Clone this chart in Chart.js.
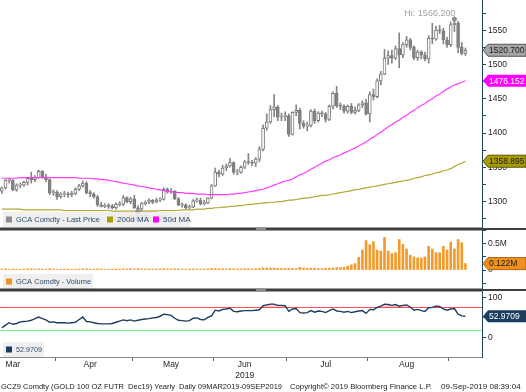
<!DOCTYPE html>
<html>
<head>
<meta charset="utf-8">
<script src="https://cdn.jsdelivr.net/npm/chart.js@4.4.1/dist/chart.umd.min.js"></script>
<style>
  html, body { margin: 0; padding: 0; background: #ffffff; }
  canvas { display: block; }
</style>
</head>
<body>
<canvas id="goldChart" width="526" height="392"></canvas>
<script>
// trading days shown (2019)
const marDays = [11,12,13,14,15,18,19,20,21,22,25,26,27,28,29];
const aprDays = [1,2,3,4,5,8,9,10,11,12,15,16,17,18,22,23,24,25,26,29,30];
const mayDays = [1,2,3,6,7,8,9,10,13,14,15,16,17,20,21,22,23,24,28,29,30,31];
const junDays = [3,4,5,6,7,10,11,12,13,14,17,18,19,20,21,24,25,26,27,28];
const julDays = [1,2,3,5,8,9,10,11,12,15,16,17,18,19,22,23,24,25,26,29,30,31];
const augDays = [1,2,5,6,7,8,9,12,13,14,15,16,19,20,21,22,23,26,27,28,29,30];
const sepDays = [3,4,5,6,9];

// month labels on the time axis
const monthNames = ['Mar', 'Apr', 'May', 'Jun', 'Jul', 'Aug'];
const monthLabelDays = ['2019-03-14', '2019-04-12', '2019-05-15', '2019-06-13', '2019-07-16', '2019-08-15'];

// GCA Comdty daily prices
const opens = [
  1315,1320,1331,1331,1317,1324,1324,1328,1334,1332,1335,1344,1336,1332,1313,
  1314,1307,1311,1311,1310,1312,1318,1323,1327,1313,1311,1307,1295,1293,1294,1293,1291,1296,1296,1306,1300,
  1304,1291,1289,1297,1299,1302,1299,1302,1303,1318,1314,1315,1304,1295,1295,1291,1292,1301,1302,1297,1298,1305,
  1323,1343,1340,1349,1352,1357,1343,1343,1350,1358,1357,1356,1362,1376,1407,1416,1434,1438,1423,1424,
  1425,1398,1430,1433,1414,1410,1411,1432,1418,1429,1428,1420,1439,1458,1440,1439,1432,1439,1430,1433,1441,1444,
  1428,1456,1453,1476,1486,1509,1513,1509,1523,1514,1529,1536,1525,1510,1518,1514,1508,1538,1537,1550,1549,1536,
  1529,1558,1560,1525,1516
];
const highs = [
  1321,1332,1334,1332,1326,1327,1330,1335,1343,1338,1346,1345,1340,1333,1317,
  1316,1313,1315,1314,1315,1320,1325,1330,1329,1316,1313,1309,1299,1297,1297,1296,1298,1300,1309,1307,1306,
  1309,1294,1299,1301,1304,1303,1305,1306,1320,1320,1319,1316,1306,1298,1297,1295,1303,1305,1305,1302,1306,1325,
  1349,1346,1353,1355,1363,1358,1347,1352,1360,1370,1360,1364,1380,1412,1428,1440,1456,1440,1429,1431,
  1428,1431,1441,1436,1418,1416,1434,1435,1431,1432,1430,1441,1460,1468,1444,1441,1441,1443,1438,1443,1447,1449,
  1460,1464,1479,1490,1522,1520,1521,1527,1546,1532,1541,1538,1527,1521,1520,1518,1542,1560,1556,1557,1553,1540,
  1562,1566.2,1563,1532,1524
];
const lows = [
  1312,1318,1327,1316,1315,1320,1322,1324,1327,1329,1334,1334,1329,1310,1309,
  1303,1305,1307,1306,1307,1310,1316,1321,1311,1307,1305,1293,1292,1291,1290,1289,1289,1293,1294,1298,1297,
  1290,1285.4,1286,1295,1297,1297,1298,1300,1302,1312,1312,1303,1294,1292,1289,1289,1291,1299,1295,1295,1297,1304,
  1322,1336,1338,1345,1350,1340,1339,1341,1348,1354,1352,1351,1358,1374,1404,1414,1424,1418,1418,1418,
  1395,1397,1425,1406,1407,1403,1409,1414,1416,1424,1416,1418,1435,1437,1434,1429,1429,1428,1428,1431,1437,1426,
  1416,1448,1451,1470,1485,1500,1502,1507,1495,1510,1525,1521,1507,1506,1508,1505,1502,1530,1535,1545,1530,1525,
  1526,1548,1517,1514,1513
];
const closes = [
  1320,1331,1331,1317,1324,1324,1328,1334,1332,1335,1344,1336,1332,1313,1314,
  1307,1311,1311,1310,1312,1318,1323,1327,1313,1311,1307,1295,1293,1294,1293,1291,1296,1296,1306,1300,1304,
  1291,1289,1297,1299,1302,1299,1302,1303,1318,1314,1315,1304,1295,1295,1291,1292,1301,1302,1297,1298,1305,1323,
  1343,1340,1349,1352,1357,1343,1343,1350,1358,1357,1356,1362,1376,1407,1416,1434,1438,1423,1424,1425,
  1398,1430,1433,1414,1410,1411,1432,1418,1429,1428,1420,1439,1458,1440,1439,1432,1439,1430,1433,1441,1444,1428,
  1456,1453,1476,1486,1509,1513,1509,1523,1514,1529,1536,1525,1510,1518,1514,1508,1538,1537,1550,1549,1536,1529,
  1558,1560,1525,1516,1520.7
];

// moving averages
const ma50 = [
  1334,1334,1334,1334,1334,1335,1335,1335,1335,1335,1335,1335,1335,1335,1335,
  1335,1335,1335,1335,1335,1335,1334,1334,1334,1334,1333,1333,1332,1332,1331,1330,1329,1328,1327,1326,1325,
  1324,1323,1322,1321,1320,1319,1318,1317,1316,1315,1314,1314,1313,1313,1312,1312,1312,1311,1311,1311,1310,1310,
  1310,1310,1310,1310,1311,1311,1312,1312,1313,1314,1315,1316,1317,1318,1320,1322,1324,1326,1328,1330,
  1331,1333,1336,1339,1341,1344,1347,1350,1353,1356,1359,1361,1364,1366,1368,1371,1373,1376,1378,1381,1384,1387,
  1391,1394,1398,1401,1405,1409,1412,1416,1419,1423,1426,1430,1433,1437,1440,1443,1447,1450,1454,1457,1461,1464,
  1467,1470,1472,1474,1476.152
];
const ma200 = [
  1289,1289,1289,1289,1289,1289,1288,1288,1288,1288,1288,1288,1288,1288,1288,
  1288,1288,1287,1287,1287,1287,1287,1287,1287,1287,1287,1287,1287,1287,1287,1286,1286,1286,1286,1286,1286,
  1286,1286,1286,1286,1286,1286,1286,1287,1287,1287,1287,1287,1287,1288,1288,1288,1288,1289,1289,1289,1290,1290,
  1291,1291,1292,1292,1293,1293,1294,1294,1295,1296,1296,1297,1297,1298,1298,1299,1299,1300,1300,1301,
  1302,1302,1303,1304,1305,1305,1306,1307,1308,1309,1309,1310,1311,1312,1313,1314,1315,1316,1317,1318,1319,1320,
  1321,1322,1323,1324,1325,1326,1327,1328,1329,1330,1331,1332,1334,1335,1336,1338,1339,1340,1342,1343,1345,1346,
  1348,1351,1354,1356,1358.895
];

// volume, millions of contracts
const volumes = [
  0.018,0.022,0.016,0.020,0.018,0.015,0.019,0.021,0.024,0.017,0.020,0.018,0.016,0.025,0.019,
  0.017,0.016,0.020,0.018,0.015,0.017,0.020,0.022,0.025,0.019,0.017,0.022,0.019,0.017,0.016,0.018,0.020,0.017,0.022,0.019,0.024,
  0.022,0.024,0.020,0.018,0.020,0.021,0.019,0.020,0.026,0.022,0.020,0.023,0.021,0.019,0.018,0.020,0.022,0.019,0.021,0.019,0.022,0.028,
  0.030,0.024,0.025,0.022,0.026,0.023,0.021,0.024,0.025,0.027,0.022,0.025,0.028,0.040,0.038,0.035,0.040,0.030,0.028,0.029,
  0.032,0.028,0.026,0.050,0.034,0.030,0.034,0.036,0.028,0.026,0.030,0.034,0.040,0.045,0.045,0.055,0.075,0.100,0.120,0.240,0.380,0.560,
  0.480,0.540,0.380,0.360,0.620,0.360,0.310,0.330,0.580,0.490,0.400,0.280,0.250,0.230,0.230,0.250,0.450,0.400,0.330,0.330,0.450,0.380,
  0.530,0.400,0.580,0.520,0.122
];

// RSI
const rsi = [
  24,31,37,33,35,39,40,41,43,47,51,47,44,38,39,
  37,37,37,36,37,38,45,51,40,39,37,35,34,34,34,35,38,41,44,42,44,
  41,43,45,46,47,49,50,53,58,57,55,48,43,42,41,42,48,49,45,44,50,54,
  68,66,70,71,73,65,64,66,67,67,67,68,69,79,81,83,83,80,80,79,
  65,71,72,62,61,62,67,63,66,65,62,67,71,66,65,63,65,62,64,66,67,60,
  70,69,75,78,83,82,80,82,78,80,81,76,68,70,67,65,74,75,78,77,71,68,
  71,72,58,54,52.9709
];
const rsiUpper = 75;
const rsiLower = 20;

// axis ticks
const priceTicks = [1275,1300,1325,1350,1375,1400,1425,1450,1475,1500,1525,1550,1575];
const volumeTicks = [-0.25, 0, 0.25, 0.5, 0.75];
const rsiTicks = [0, 50, 100];

const FONT = '"Liberation Sans", Arial, sans-serif';
const AXIS_BLUE = '#1f4766';
const CANDLE_GRAY = '#858585';

const dates = [];
[['03', marDays], ['04', aprDays], ['05', mayDays], ['06', junDays],
 ['07', julDays], ['08', augDays], ['09', sepDays]].forEach(([m, days]) => {
  days.forEach(d => dates.push('2019-' + m + '-' + String(d).padStart(2, '0')));
});
const labels = dates.concat(['pad1', 'pad2', 'pad3', 'pad4']);

const monthLabelAt = {};
monthLabelDays.forEach((d, i) => { monthLabelAt[d] = monthNames[i]; });
monthLabelAt['2019-06-13'] = ['Jun', '2019'];

function monthOf(d) { return d ? d.slice(0, 7) : null; }

function fitText(ctx, text, x, y, maxW) {
  const w = ctx.measureText(text).width;
  if (w <= maxW) { ctx.fillText(text, x, y); return; }
  ctx.save();
  ctx.translate(x, y);
  ctx.scale(maxW / w, 1);
  ctx.fillText(text, 0, 0);
  ctx.restore();
}

function drawTag(ctx, y, text, fill, textColor, border) {
  const x0 = 483, x1 = 526, h = 12;
  ctx.beginPath();
  ctx.moveTo(x0, y);
  ctx.lineTo(x0 + 5, y - h / 2);
  ctx.lineTo(x1, y - h / 2);
  ctx.lineTo(x1, y + h / 2);
  ctx.lineTo(x0 + 5, y + h / 2);
  ctx.closePath();
  ctx.fillStyle = fill;
  ctx.fill();
  if (border) {
    ctx.strokeStyle = border;
    ctx.lineWidth = 1;
    ctx.stroke();
  }
  ctx.fillStyle = textColor;
  ctx.font = '8.5px ' + FONT;
  ctx.textAlign = 'left';
  ctx.textBaseline = 'middle';
  fitText(ctx, text, x0 + 6, y + 0.5, 36);
}

function drawLegend(ctx, x, top, w, items) {
  ctx.fillStyle = 'rgba(236,236,236,0.82)';
  ctx.fillRect(x, top, w, 15);
  ctx.font = '8px ' + FONT;
  ctx.textAlign = 'left';
  ctx.textBaseline = 'middle';
  items.forEach(it => {
    ctx.fillStyle = it.color;
    ctx.fillRect(it.x, top + 4.5, 6, 6);
    ctx.fillStyle = '#2d4a68';
    fitText(ctx, it.text, it.x + 10, top + 8, it.w);
  });
}

const decor = {
  id: 'bbgDecor',
  beforeDatasetsDraw(chart) {
    const {ctx, chartArea, scales} = chart;
    ctx.save();
    ctx.lineWidth = 1;
    [[rsiUpper, '#ff4545'], [rsiLower, '#7ff07f']].forEach(([v, c]) => {
      const y = Math.round(scales.yR.getPixelForValue(v)) + 0.5;
      ctx.strokeStyle = c;
      ctx.beginPath();
      ctx.moveTo(chartArea.left, y);
      ctx.lineTo(chartArea.right, y);
      ctx.stroke();
    });
    ctx.restore();
  },
  afterDraw(chart) {
    const {ctx, chartArea, scales} = chart;
    const x = scales.x, yP = scales.yP, yV = scales.yV, yR = scales.yR;
    ctx.save();

    // high / low markers
    const hi = Math.max(...highs), lo = Math.min(...lows);
    const hiIdx = highs.indexOf(hi), loIdx = lows.indexOf(lo);
    ctx.fillStyle = '#8f8f8f';
    [[hiIdx, hi], [loIdx, lo]].forEach(([i, v]) => {
      ctx.beginPath();
      ctx.arc(x.getPixelForValue(i), yP.getPixelForValue(v), 2.5, 0, Math.PI * 2);
      ctx.fill();
    });
    ctx.font = '9px ' + FONT;
    ctx.fillStyle = '#a3a3a3';
    ctx.textBaseline = 'middle';
    ctx.textAlign = 'right';
    ctx.fillText('Hi: ' + hi.toFixed(3), x.getPixelForValue(hiIdx) + 1, yP.getPixelForValue(hi) - 6);
    ctx.textAlign = 'center';
    ctx.fillText('Lo: ' + lo.toFixed(3), x.getPixelForValue(loIdx) + 2, yP.getPixelForValue(lo) + 7);

    // legends
    drawLegend(ctx, 3, yP.bottom - 17, 187, [
      {color: '#8c8c8c', text: 'GCA Comdty - Last Price', x: 6, w: 84},
      {color: '#a89c00', text: '200d MA', x: 107, w: 33},
      {color: '#ff00ff', text: '50d MA', x: 153, w: 29}
    ]);
    drawLegend(ctx, 3, yV.bottom - 16, 90, [
      {color: '#f0901e', text: 'GCA Comdty - Volume', x: 6, w: 75}
    ]);
    drawLegend(ctx, 3, yR.bottom - 15, 41, [
      {color: '#1c3e5e', text: '52.9709', x: 6, w: 26}
    ]);

    // panel separators
    [yV.top, yR.top].forEach(t => {
      ctx.fillStyle = '#3e3e3e';
      ctx.fillRect(0, t - 1.5, chartArea.right, 3);
      ctx.fillRect(chartArea.right, t - 1, 526 - chartArea.right, 2);
      ctx.fillStyle = '#8e8e8e';
      ctx.fillRect(256, t - 1.5, 10, 3);
    });

    // last value tags
    drawTag(ctx, yP.getPixelForValue(ma200[ma200.length - 1]), ma200[ma200.length - 1].toFixed(3), '#a89c00', '#1a1a1a', '#5a5200');
    drawTag(ctx, yP.getPixelForValue(ma50[ma50.length - 1]), ma50[ma50.length - 1].toFixed(3), '#ff00ff', '#ffffff', null);
    drawTag(ctx, yP.getPixelForValue(closes[closes.length - 1]), closes[closes.length - 1].toFixed(3), '#a6a6a6', '#1a1a1a', '#555555');
    drawTag(ctx, yV.getPixelForValue(volumes[volumes.length - 1]), volumes[volumes.length - 1].toFixed(3) + 'M', '#f0901e', '#1a1a1a', '#b06010');
    drawTag(ctx, yR.getPixelForValue(rsi[rsi.length - 1]), rsi[rsi.length - 1].toFixed(4), '#1c3e5e', '#ffffff', null);

    // footer
    ctx.font = '8px ' + FONT;
    ctx.fillStyle = '#222222';
    ctx.textAlign = 'left';
    ctx.textBaseline = 'middle';
    fitText(ctx, 'GCZ9 Comdty (GOLD 100 OZ FUTR  Dec19) Yearly  Daily 09MAR2019-09SEP2019', 1, 386.5, 281);
    fitText(ctx, 'Copyright\u00a9 2019 Bloomberg Finance L.P.', 290, 386.5, 142);
    fitText(ctx, '09-Sep-2019 08:39:04', 441, 386.5, 83);
    ctx.restore();
  }
};

function rightAxis(weight, min, max, tickValues, labelFn) {
  return {
    type: 'linear',
    position: 'right',
    stack: 'panes',
    stackWeight: weight,
    min: min,
    max: max,
    afterBuildTicks: s => { s.ticks = tickValues.map(v => ({value: v})); },
    afterFit: s => { s.width = 44; s.paddingTop = 0; s.paddingBottom = 0; },
    grid: { drawOnChartArea: false, drawTicks: true, tickLength: 4, tickColor: AXIS_BLUE },
    border: { display: true, color: AXIS_BLUE, width: 1 },
    ticks: {
      autoSkip: false,
      padding: 2,
      color: '#1e1e1e',
      font: { family: FONT, size: 8.5 },
      callback: labelFn
    }
  };
}

const ctx = document.getElementById('goldChart').getContext('2d');
new Chart(ctx, {
  type: 'bar',
  data: {
    labels: labels,
    datasets: [
      {
        type: 'line', label: '50d MA', data: ma50, yAxisID: 'yP',
        borderColor: '#ff3dff', borderWidth: 1.2, pointRadius: 0, tension: 0, order: 1
      },
      {
        type: 'line', label: '200d MA', data: ma200, yAxisID: 'yP',
        borderColor: '#b3a834', borderWidth: 1.2, pointRadius: 0, tension: 0, order: 1
      },
      {
        type: 'bar', label: 'range', yAxisID: 'yP', grouped: false, order: 3,
        data: lows.map((l, i) => [l, highs[i]]),
        barThickness: 1, backgroundColor: CANDLE_GRAY
      },
      {
        type: 'bar', label: 'body', yAxisID: 'yP', grouped: false, order: 2,
        data: opens.map((o, i) => [o, closes[i]]),
        barThickness: 3, minBarLength: 1,
        backgroundColor: c => closes[c.dataIndex] >= opens[c.dataIndex] ? '#ffffff' : CANDLE_GRAY,
        borderColor: '#7a7a7a', borderWidth: 1, borderSkipped: false
      },
      {
        type: 'bar', label: 'GCA Comdty - Volume', yAxisID: 'yV', grouped: false,
        data: volumes, barThickness: 2, backgroundColor: '#f39a2c'
      },
      {
        type: 'line', label: 'RSI', data: rsi, yAxisID: 'yR',
        borderColor: '#1c3e5e', borderWidth: 1.4, pointRadius: 0, tension: 0,
        fill: { target: { value: rsiUpper }, above: 'rgba(250,170,180,0.6)', below: 'rgba(0,0,0,0)' }
      }
    ]
  },
  options: {
    responsive: false,
    devicePixelRatio: 1,
    animation: false,
    events: [],
    layout: { padding: 0 },
    plugins: {
      legend: { display: false },
      tooltip: { enabled: false }
    },
    scales: {
      x: {
        type: 'category',
        offset: true,
        afterFit: s => { s.height = 35; s.paddingLeft = 0; s.paddingRight = 0; },
        grid: {
          drawOnChartArea: false,
          drawTicks: true,
          tickLength: 4,
          tickColor: c => (c.index > 0 && c.index < dates.length &&
            monthOf(dates[c.index]) !== monthOf(dates[c.index - 1])) ? '#666666' : 'rgba(0,0,0,0)'
        },
        border: { display: true, color: '#8a8a8a' },
        ticks: {
          autoSkip: false,
          maxRotation: 0,
          minRotation: 0,
          padding: -1,
          color: '#1e1e1e',
          font: { family: FONT, size: 8.5 },
          callback: (v, i) => monthLabelAt[dates[i]] || ''
        }
      },
      yP: rightAxis(229, 1260, 1594, priceTicks, v => (v % 50 === 0 ? String(v) : '')),
      yV: rightAxis(61, -0.38, 0.78, volumeTicks, v => (v === 0.5 ? '0.5M' : (v === 0 ? '0' : ''))),
      yR: rightAxis(67, -48, 118, rsiTicks, v => (v === 100 ? '100' : (v === 0 ? '0' : '')))
    }
  },
  plugins: [decor]
});
</script>
</body>
</html>
